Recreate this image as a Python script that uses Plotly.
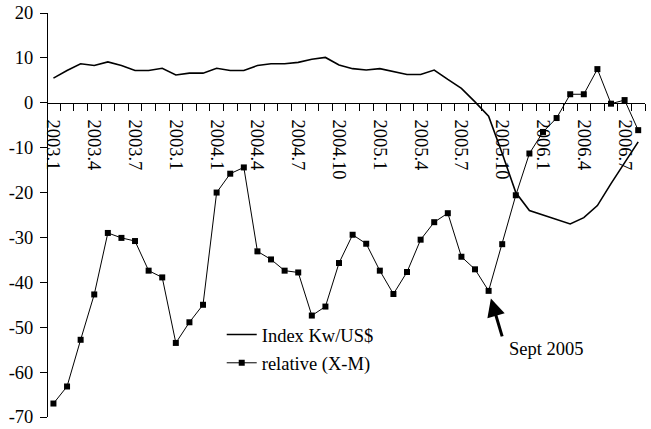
import plotly.graph_objects as go

# ---- data ----
months = ["2003.1", "2003.2", "2003.3", "2003.4", "2003.5", "2003.6", "2003.7", "2003.8",
          "2003.9", "2003.1", "2003.11", "2003.12", "2004.1", "2004.2", "2004.3", "2004.4",
          "2004.5", "2004.6", "2004.7", "2004.8", "2004.9", "2004.10", "2004.11", "2004.12",
          "2005.1", "2005.2", "2005.3", "2005.4", "2005.5", "2005.6", "2005.7", "2005.8",
          "2005.9", "2005.10", "2005.11", "2005.12", "2006.1", "2006.2", "2006.3", "2006.4",
          "2006.5", "2006.6", "2006.7", "2006.8"]

index_kw_usd = [5.5, 7.2, 8.7, 8.3, 9.1, 8.3, 7.2, 7.2, 7.7, 6.2, 6.6, 6.6, 7.7, 7.2, 7.2,
                8.3, 8.7, 8.7, 9.0, 9.7, 10.1, 8.4, 7.6, 7.3, 7.6, 6.9, 6.3, 6.3, 7.3, 5.2,
                3.2, 0.2, -3.0, -11.3, -20.0, -24.0, -25.0, -25.9, -27.0, -25.6, -22.9,
                -18.0, -13.2, -8.7]

relative_xm = [-67.0, -63.2, -52.8, -42.7, -29.0, -30.1, -30.8, -37.4, -38.9, -53.5, -48.9,
               -45.0, -20.0, -15.8, -14.4, -33.1, -34.9, -37.4, -37.8, -47.4, -45.4, -35.7,
               -29.4, -31.4, -37.4, -42.6, -37.7, -30.5, -26.6, -24.6, -34.3, -37.1, -41.9,
               -31.5, -20.6, -11.3, -6.5, -3.4, 1.9, 1.9, 7.5, -0.2, 0.6, -6.1]

y_ticks = [-70, -60, -50, -40, -30, -20, -10, 0, 10, 20]
label_step = 3
annot_month = "2005.9"
annot_text = "Sept 2005"

# ---- layout helpers ----
FONT = "Liberation Serif, Times New Roman, serif"
FS = 18.5
n = len(months)
xs = list(range(n))
xrange_ = [-0.4, n - 0.5]
ymin, ymax = y_ticks[0], y_ticks[-1]
zero_pos = (0 - ymin) / (ymax - ymin)

fig = go.Figure()
fig.add_trace(go.Scatter(
    x=xs, y=index_kw_usd, mode="lines", name="Index Kw/US$",
    line=dict(color="black", width=1.6), xaxis="x", yaxis="y", legend="legend"))
fig.add_trace(go.Scatter(
    x=xs, y=relative_xm, mode="lines+markers", name="relative (X-M)",
    line=dict(color="black", width=1),
    marker=dict(symbol="square", size=6, color="black"),
    xaxis="x2", yaxis="y", legend="legend2"))

ai = months.index(annot_month)
fig.add_annotation(x=ai, y=relative_xm[ai], xref="x", yref="y", text="",
                   showarrow=True, arrowhead=2, arrowsize=1.2, arrowwidth=3,
                   arrowcolor="black", ax=14, ay=47, standoff=8)
fig.add_annotation(x=ai, y=relative_xm[ai], xref="x", yref="y", text=annot_text,
                   showarrow=False, xanchor="left", yanchor="middle",
                   xshift=18, yshift=-58, font=dict(family=FONT, size=FS, color="black"))

fig.update_layout(
    width=651, height=429,
    margin=dict(l=48, r=6, t=13, b=12, autoexpand=False),
    paper_bgcolor="white", plot_bgcolor="white",
    font=dict(family=FONT, size=FS, color="black"),
    showlegend=True,
    xaxis=dict(range=xrange_, anchor="free", position=zero_pos, automargin=False,
               tickvals=xs[::label_step], ticktext=months[::label_step],
               tickangle=90, ticks="", showline=True, linecolor="black", linewidth=1,
               showgrid=False, zeroline=False, ticklabelstandoff=12,
               tickfont=dict(family=FONT, size=FS, color="black")),
    xaxis2=dict(range=xrange_, anchor="free", position=zero_pos, overlaying="x",
                automargin=False,
                tickvals=[i + 0.5 for i in xs], showticklabels=False,
                ticks="outside", ticklen=7, tickcolor="black", tickwidth=1,
                showline=False, showgrid=False, zeroline=False),
    yaxis=dict(range=[ymin, ymax], tickvals=y_ticks, ticktext=[str(v) for v in y_ticks],
               automargin=False, ticklabelstandoff=3,
               ticks="outside", ticklen=7, tickcolor="black", showline=True,
               linecolor="black", linewidth=1, showgrid=False, zeroline=False,
               tickfont=dict(family=FONT, size=FS, color="black")),
    legend=dict(x=0.291, y=0.203, xanchor="left", yanchor="middle",
                bgcolor="rgba(0,0,0,0)", font=dict(family=FONT, size=FS, color="black")),
    legend2=dict(x=0.291, y=0.133, xanchor="left", yanchor="middle",
                 bgcolor="rgba(0,0,0,0)", font=dict(family=FONT, size=FS, color="black")),
)

fig.write_html("out.html", config={"displayModeBar": False},
               post_script="document.body.style.margin='0';")
